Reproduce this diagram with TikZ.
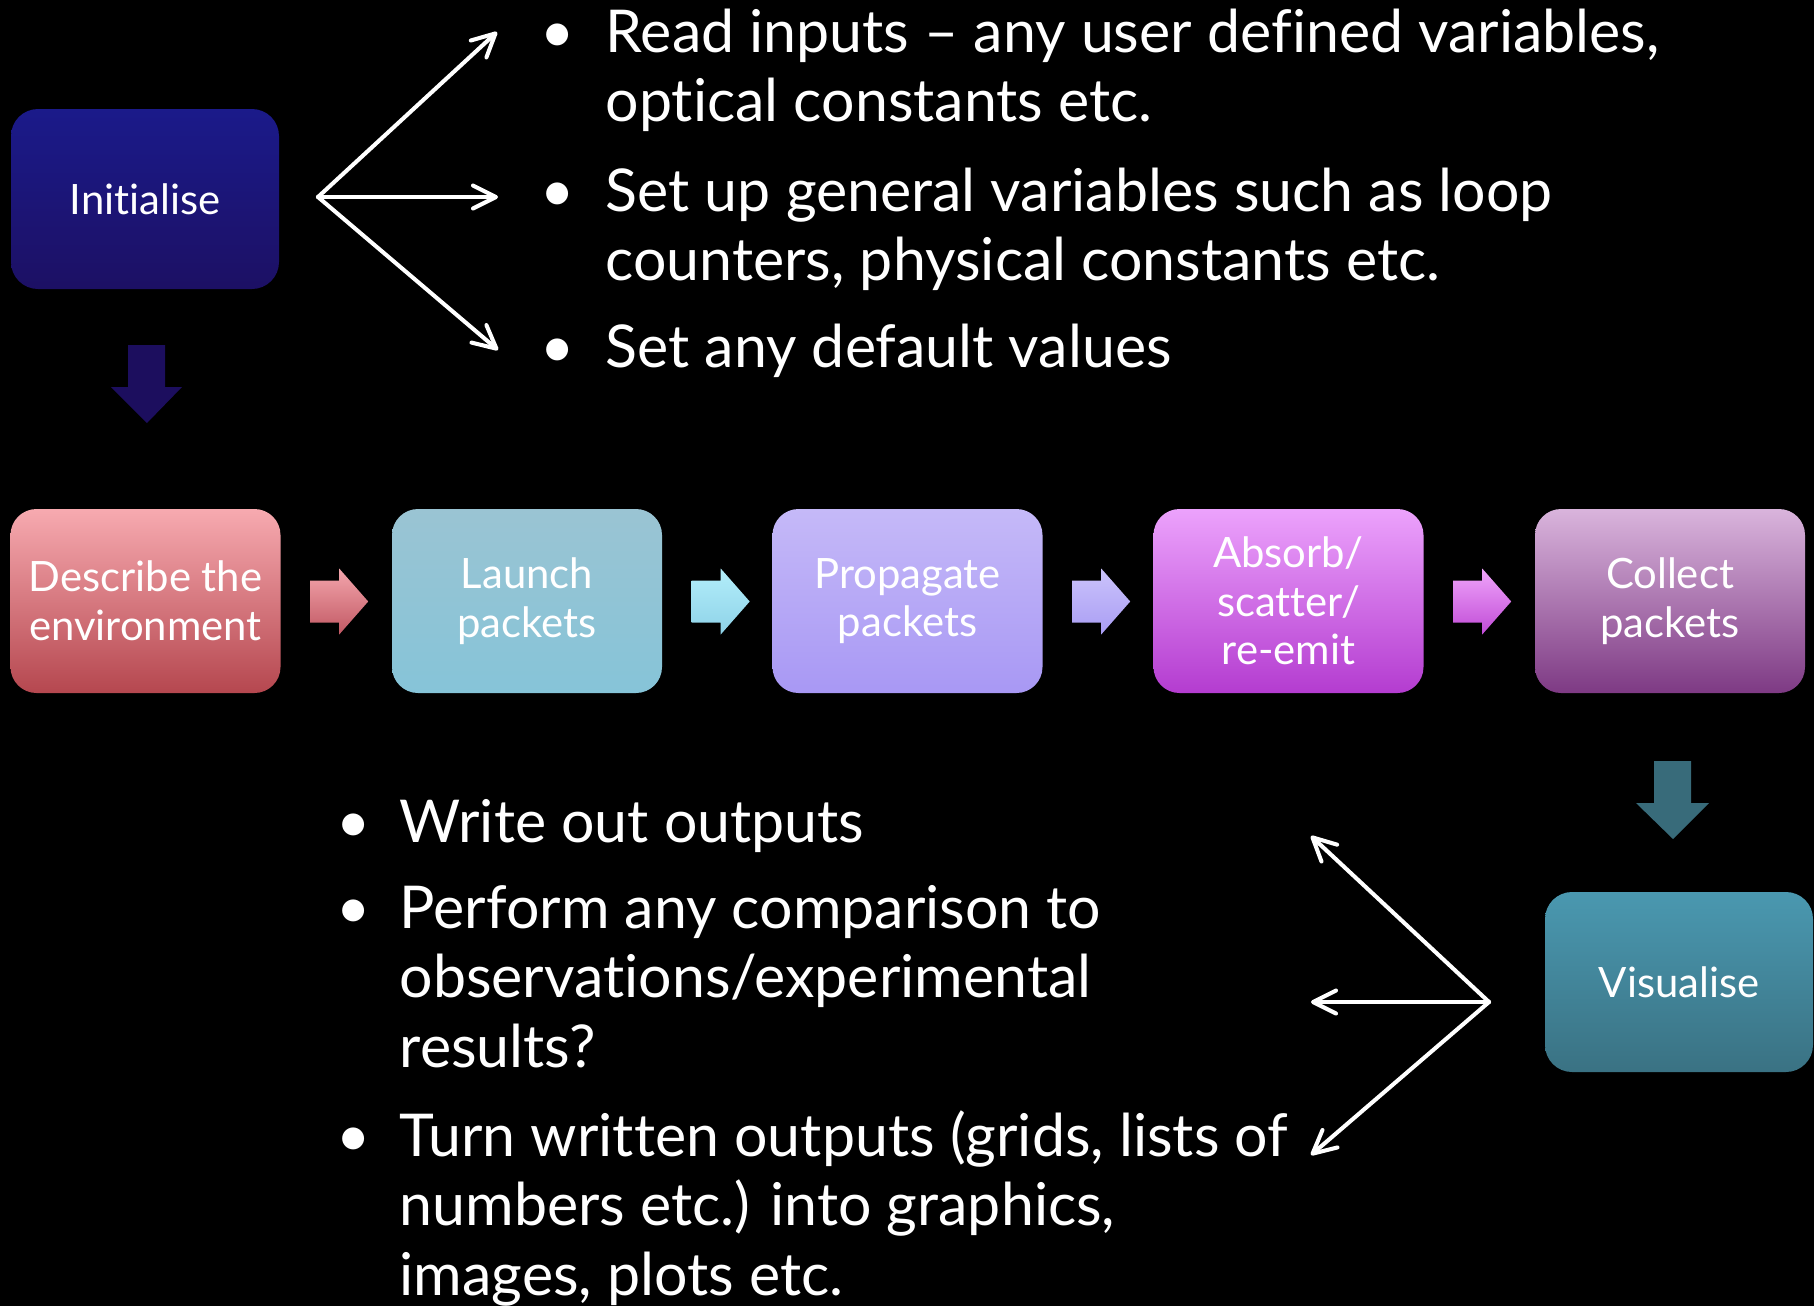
\documentclass[tikz,border=0pt]{standalone}
\usepackage{fontspec}
\setmainfont{Lato}[Ligatures=NoCommon]
\usetikzlibrary{arrows.meta}

\definecolor{inittop}{HTML}{1B1A8A}
\definecolor{initbot}{HTML}{1C1064}
\definecolor{initarrow}{HTML}{1C0E5E}
\definecolor{desctop}{HTML}{F7AAB0}
\definecolor{descbot}{HTML}{B5474F}
\definecolor{launchtop}{HTML}{9AC4D3}
\definecolor{launchbot}{HTML}{86C4D8}
\definecolor{proptop}{HTML}{C5B9F8}
\definecolor{propbot}{HTML}{A898F4}
\definecolor{abstop}{HTML}{ECA2FC}
\definecolor{absbot}{HTML}{B43CD0}
\definecolor{colltop}{HTML}{D9B4DC}
\definecolor{collbot}{HTML}{7E3A84}
\definecolor{vistop}{HTML}{4A98B0}
\definecolor{visbot}{HTML}{3A7283}
\definecolor{visarrow}{HTML}{386B7A}
\definecolor{descarrtop}{HTML}{F4A6AD}
\definecolor{descarrbot}{HTML}{C15863}
\definecolor{launcharrtop}{HTML}{B3EEFA}
\definecolor{launcharrbot}{HTML}{8ED2E8}
\definecolor{proparrtop}{HTML}{CBC3FB}
\definecolor{proparrbot}{HTML}{A99DF4}
\definecolor{absarrtop}{HTML}{F0A5FB}
\definecolor{absarrbot}{HTML}{C04BD6}

\tikzset{
  stage/.style={rounded corners=2.6mm, minimum width=27mm, minimum height=18.4mm,
    inner sep=0pt, align=center, text=white,
    font=\fontsize{11.9}{13.8}\selectfont},
  bullets/.style={anchor=base west, inner sep=0pt, text=white,
    font=\fontsize{16.8}{19.9}\selectfont},
  pointer/.style={white, line width=1.15pt, line cap=round,
    -{Straight Barb[length=2.3mm,width=2.3mm,round]}}
}

\begin{document}
\begin{tikzpicture}[x=0.1mm, y=-0.1mm]
\fill[black] (0,0) rectangle (1814,1306);
\useasboundingbox (0,0) rectangle (1814,1306);

% stages
\node[stage, top color=inittop, bottom color=initbot, minimum width=26.8mm, minimum height=18mm, rounded corners=2.7mm] (init) at (145,199) {Initialise};
\node[stage, top color=desctop, bottom color=descbot] (desc) at (145.5,601) {Describe the\\environment};
\node[stage, top color=launchtop, bottom color=launchbot] (launch) at (527,601) {Launch\\packets};
\node[stage, top color=proptop, bottom color=propbot] (prop) at (907.5,601) {Propagate\\packets};
\node[stage, top color=abstop, bottom color=absbot] (absorb) at (1288.5,601) {Absorb/\\scatter/\\re-emit};
\node[stage, top color=colltop, bottom color=collbot] (collect) at (1670,601) {Collect\\packets};
\node[stage, top color=vistop, bottom color=visbot, minimum width=26.8mm, minimum height=18mm, rounded corners=2.7mm] (vis) at (1679,982) {Visualise};

% block arrows between stages
\foreach \a/\c in {desc/desc, launch/launch, prop/prop, absorb/abs}
  \shade[top color=\c arrtop, bottom color=\c arrbot] ([xshift=2.9mm,yshift=2.05mm]\a.east)
    -- ++(29,0) -- ++(0,-12) -- ++(29,33) -- ++(-29,33) -- ++(0,-12) -- ++(-29,0) -- cycle;

% down arrows
\fill[initarrow] (128,345) -- (165,345) -- (165,387) -- (182,387) -- (147,423) -- (111,387) -- (128,387) -- cycle;
\fill[visarrow] (1654,761) -- (1691,761) -- (1691,803) -- (1709,803) -- (1673,839) -- (1636,803) -- (1654,803) -- cycle;

% top list
\node[bullets] (read) at (540,52) {\begin{tabular}[t]{@{}p{6.5mm}@{}l@{}}
  • & Read inputs – any user defined variables,\\ & optical constants etc.\end{tabular}};
\node[bullets] (setup) at (540,211) {\begin{tabular}[t]{@{}p{6.5mm}@{}l@{}}
  • & Set up general variables such as loop\\ & counters, physical constants etc.\end{tabular}};
\node[bullets] (defaults) at (540,367) {\begin{tabular}[t]{@{}p{6.5mm}@{}l@{}}
  • & Set any default values\end{tabular}};

% bottom list
\node[bullets] (write) at (336,842) {\begin{tabular}[t]{@{}p{6.3mm}@{}l@{}}
  • & Write out outputs\end{tabular}};
\node[bullets] (compare) at (336,928) {\begin{tabular}[t]{@{}p{6.3mm}@{}l@{}}
  • & Perform any comparison to\\ & observations/experimental\\ & results?\end{tabular}};
\node[bullets] (turn) at (336,1156) {\begin{tabular}[t]{@{}p{6.3mm}@{}l@{}}
  • & Turn written outputs (grids, lists of\\ & numbers etc.) into graphics,\\ & images, plots etc.\end{tabular}};

% fan-out pointers
\coordinate (initfan) at (318,197);
\coordinate (toread) at (497,32);
\coordinate (tosetup) at (498,197);
\coordinate (todefaults) at (498,350);
\draw[pointer] (initfan) -- (toread);
\draw[pointer] (initfan) -- (tosetup);
\draw[pointer] (initfan) -- (todefaults);

\coordinate (visfan) at (1489,1002);
\coordinate (towrite) at (1311,836);
\coordinate (tocompare) at (1311,1002);
\coordinate (toturn) at (1311,1155);
\draw[pointer] (visfan) -- (towrite);
\draw[pointer] (visfan) -- (tocompare);
\draw[pointer] (visfan) -- (toturn);
\end{tikzpicture}
\end{document}
